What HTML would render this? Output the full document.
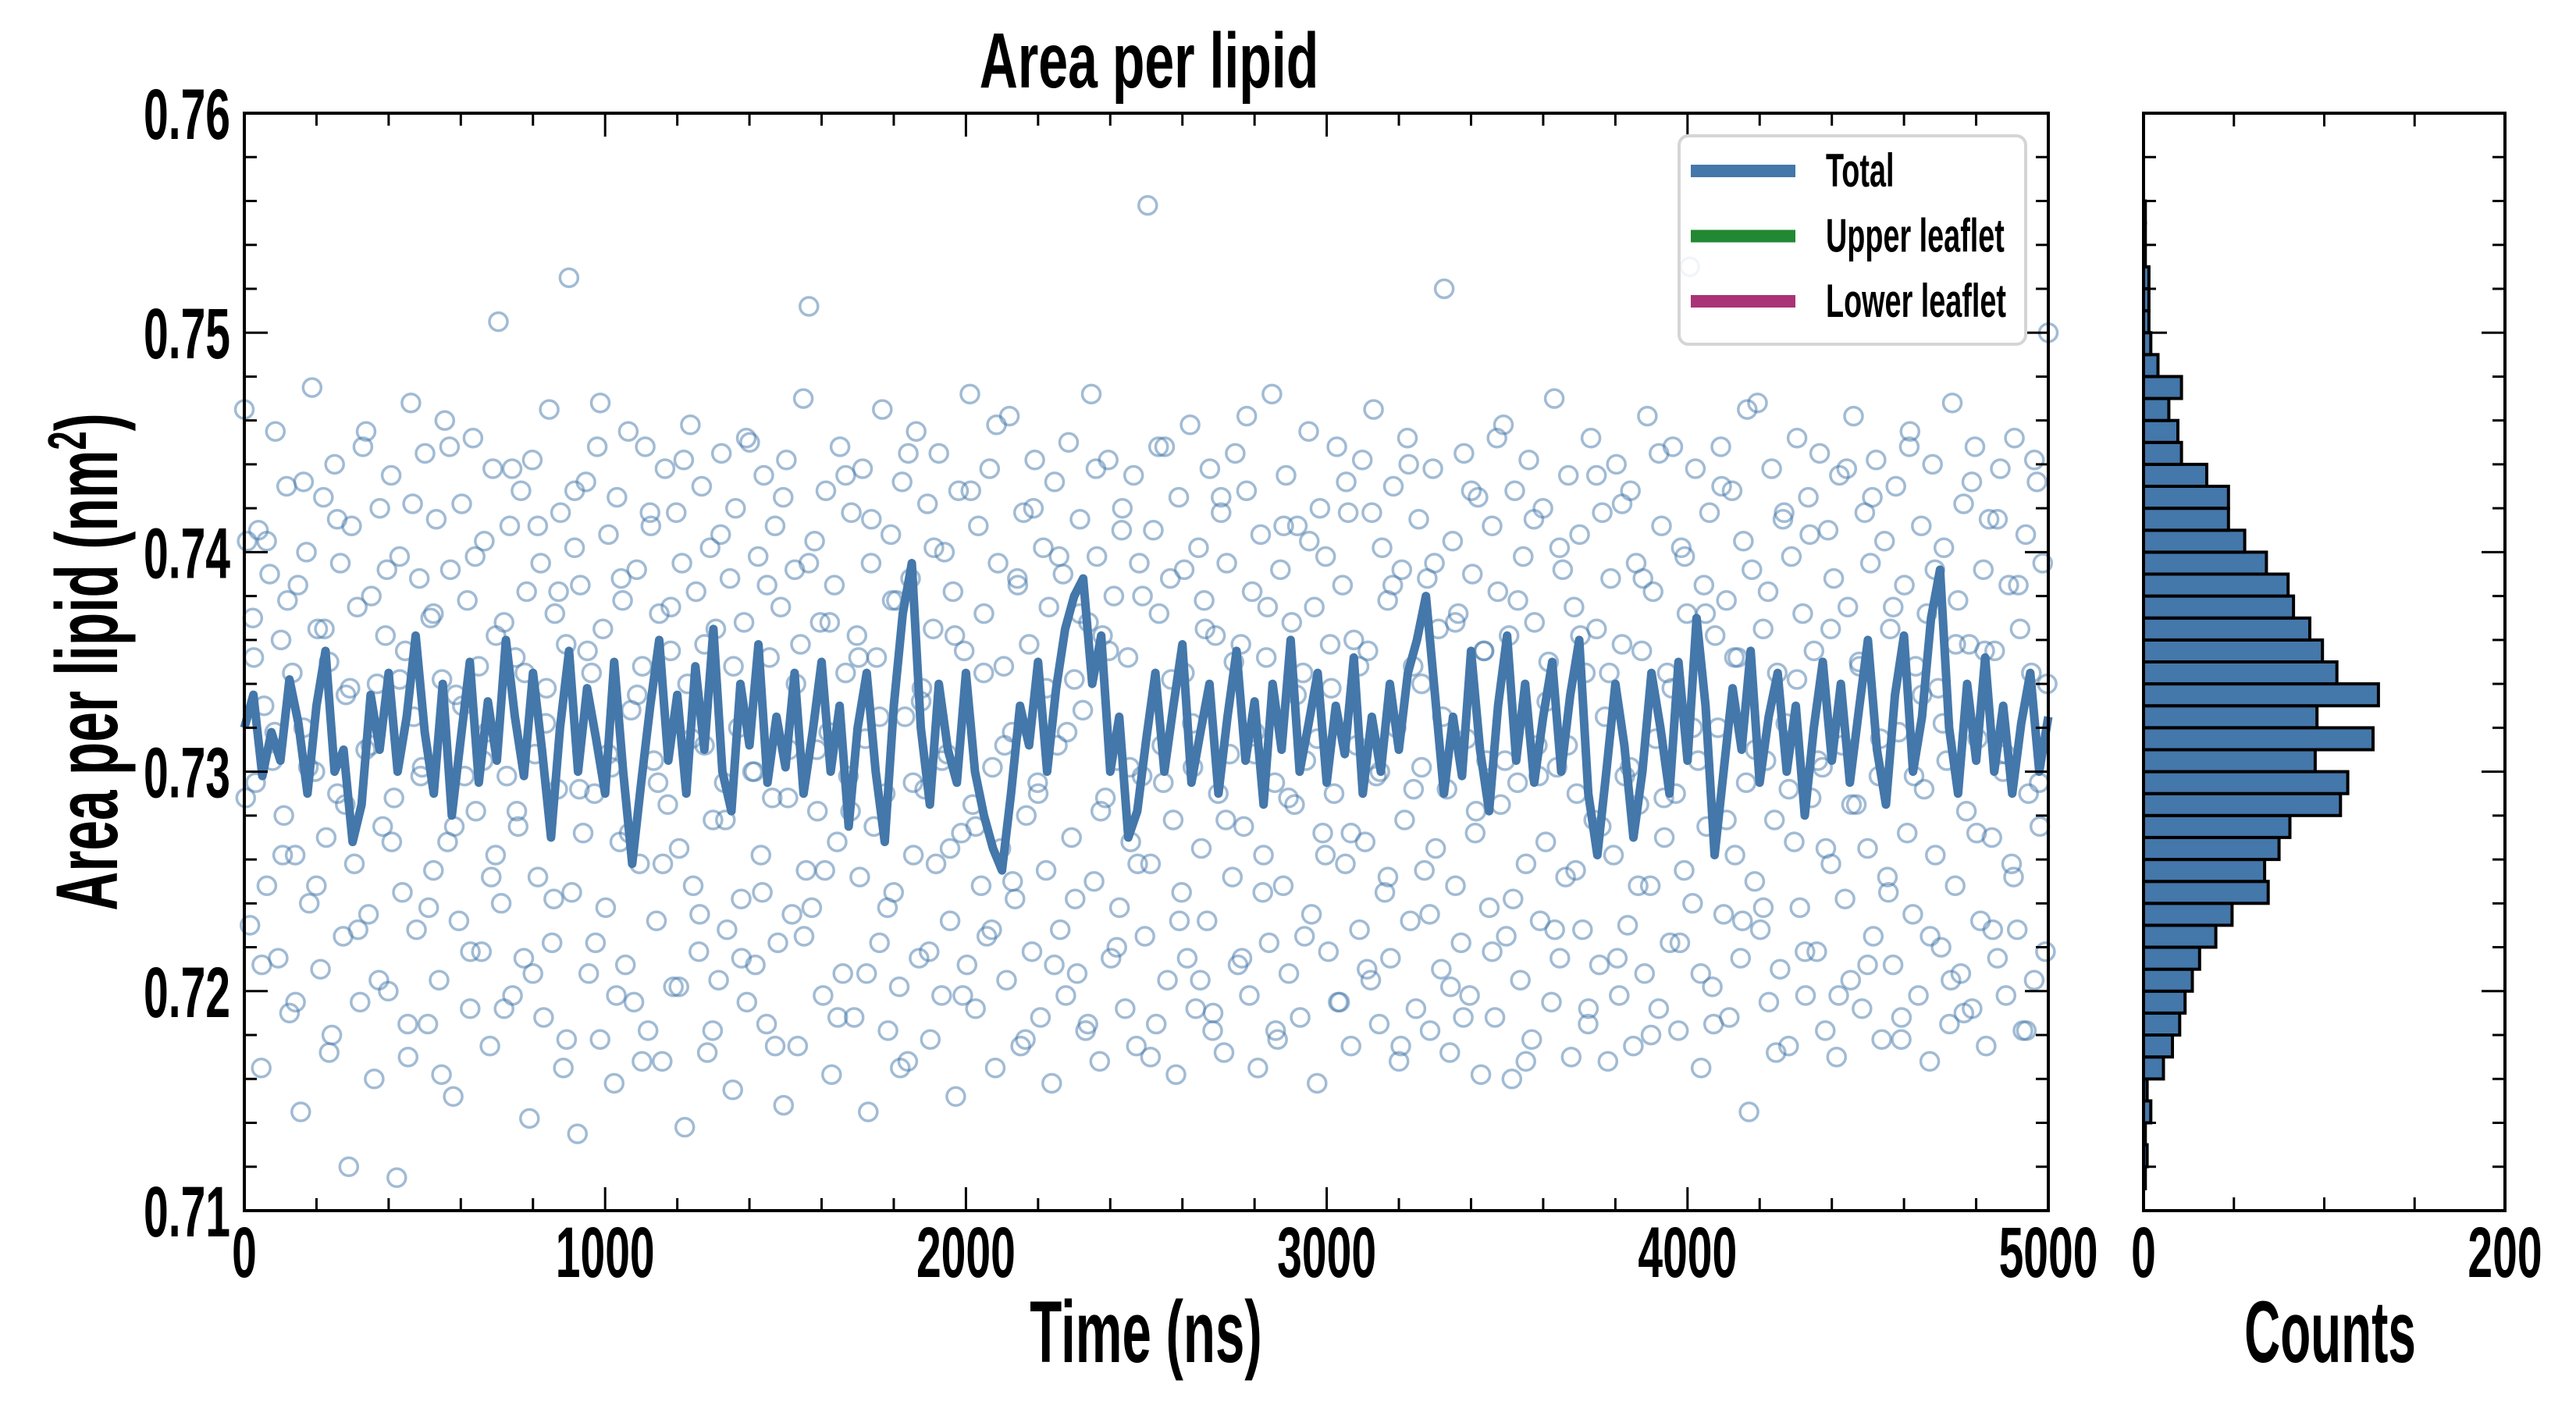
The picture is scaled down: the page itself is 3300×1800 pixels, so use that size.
<!DOCTYPE html>
<html><head><meta charset="utf-8">
<style>
html,body{margin:0;padding:0;background:#fff;}
svg{display:block;}
text{font-family:"Liberation Sans Narrow","Liberation Sans",sans-serif;font-weight:bold;fill:#000;}
</style></head>
<body>
<svg id="chart" width="3300" height="1800" viewBox="0 0 3300 1800" xmlns="http://www.w3.org/2000/svg">
<rect width="3300" height="1800" fill="#fff"/>
<g id="scatter"></g>
<g id="line"></g>
<g id="hist"></g>
<g id="axes"></g>
<g id="labels"></g>
<g id="legend"></g>
</svg>
<script>
// ---- data ----
const lineTimes = [];
const lineValues = [.7320,.7335,.7298,.7318,.7305,.7342,.7322,.7290,.7330,.7355,.7300,.7310,.7268,.7285,.7335,.7310,.7345,.7300,.7325,.7362,
.7318,.7290,.7340,.7280,.7315,.7350,.7295,.7332,.7305,.7360,.7325,.7298,.7345,.7310,.7270,.7320,.7355,.7300,.7338,.7315,
.7290,.7350,.7300,.7258,.7295,.7330,.7360,.7305,.7335,.7290,.7348,.7310,.7365,.7300,.7282,.7340,.7312,.7358,.7295,.7325,
.7302,.7345,.7290,.7318,.7350,.7300,.7330,.7275,.7320,.7345,.7300,.7268,.7330,.7372,.7395,.7320,.7285,.7340,.7310,.7295,
.7345,.7300,.7280,.7265,.7255,.7290,.7330,.7312,.7350,.7300,.7338,.7365,.7380,.7388,.7340,.7362,.7300,.7325,.7270,.7282,
.7315,.7345,.7300,.7330,.7358,.7295,.7318,.7340,.7290,.7325,.7355,.7305,.7332,.7285,.7340,.7310,.7360,.7300,.7322,.7345,
.7295,.7330,.7308,.7352,.7290,.7325,.7300,.7340,.7310,.7345,.7360,.7380,.7335,.7290,.7325,.7298,.7355,.7310,.7282,.7330,
.7362,.7305,.7340,.7295,.7325,.7350,.7300,.7335,.7360,.7290,.7262,.7300,.7340,.7312,.7270,.7300,.7345,.7320,.7290,.7350,
.7305,.7370,.7330,.7262,.7300,.7338,.7310,.7355,.7295,.7325,.7345,.7300,.7330,.7280,.7320,.7350,.7305,.7340,.7295,.7328,
.7360,.7310,.7285,.7335,.7362,.7300,.7325,.7370,.7392,.7320,.7290,.7340,.7305,.7352,.7300,.7330,.7290,.7322,.7345,.7300,.7325];
for (let i = 0; i < lineValues.length; i++) lineTimes.push(i * 25);

const scatterValues = [
.7465,.7405,.7230,.7370,.7295,.7410,.7165,.7330,.7248,.7390,.7305,.7455,.7215,.7360,.7280,.7430,.7190,.7345,.7262,.7385,
.7145,.7320,.7400,.7240,.7475,.7300,.7365,.7210,.7425,.7270,.7350,.7180,.7440,.7290,.7395,.7225,.7335,.7120,.7412,.7258,
.7375,.7195,.7448,.7310,.7235,.7380,.7160,.7340,.7420,.7275,.7362,.7200,.7435,.7288,.7115,.7398,.7245,.7355,.7170,.7468,
.7325,.7228,.7388,.7302,.7445,.7185,.7370,.7255,.7415,.7205,.7342,.7460,.7268,.7392,.7152,.7335,.7232,.7422,.7298,.7378,
.7192,.7452,.7282,.7348,.7218,.7405,.7318,.7175,.7438,.7262,.7505,.7240,.7368,.7298,.7412,.7198,.7352,.7275,.7428,.7215,
.7382,.7142,.7442,.7308,.7252,.7395,.7188,.7338,.7465,.7222,.7372,.7292,.7418,.7165,.7358,.7525,.7245,.7402,.7135,.7385,
.7272,.7432,.7208,.7345,.7290,.7448,.7178,.7365,.7238,.7408,.7302,.7158,.7425,.7268,.7378,.7212,.7455,.7328,.7195,.7392,
.7258,.7348,.7448,.7182,.7412,.7305,.7232,.7372,.7168,.7438,.7285,.7355,.7202,.7418,.7265,.7395,.7138,.7340,.7458,.7248,
.7382,.7218,.7430,.7312,.7172,.7402,.7278,.7365,.7205,.7445,.7295,.7228,.7388,.7155,.7420,.7320,.7242,.7368,.7195,.7450,
.7300,.7212,.7398,.7262,.7435,.7185,.7352,.7288,.7412,.7222,.7375,.7148,.7442,.7310,.7235,.7392,.7175,.7358,.7470,.7255,
.7512,.7238,.7405,.7282,.7368,.7198,.7428,.7318,.7162,.7385,.7268,.7448,.7208,.7345,.7298,.7418,.7188,.7362,.7252,.7438,
.7315,.7145,.7395,.7275,.7352,.7222,.7465,.7290,.7182,.7408,.7245,.7378,.7202,.7432,.7325,.7168,.7388,.7262,.7455,.7215,
.7338,.7292,.7422,.7178,.7365,.7258,.7445,.7198,.7400,.7308,.7232,.7382,.7152,.7428,.7272,.7355,.7212,.7472,.7285,.7192,
.7412,.7248,.7372,.7225,.7438,.7302,.7165,.7395,.7265,.7348,.7205,.7462,.7318,.7242,.7385,.7175,.7418,.7280,.7358,.7218,
.7442,.7295,.7188,.7402,.7255,.7375,.7158,.7432,.7312,.7228,.7390,.7198,.7450,.7270,.7342,.7208,.7415,.7328,.7182,.7368,
.7472,.7250,.7398,.7168,.7362,.7288,.7442,.7215,.7380,.7305,.7238,.7420,.7192,.7352,.7268,.7435,.7175,.7395,.7298,.7225,
.7558,.7258,.7410,.7185,.7372,.7312,.7448,.7205,.7388,.7278,.7162,.7425,.7245,.7345,.7215,.7458,.7302,.7192,.7402,.7265,
.7378,.7232,.7438,.7182,.7362,.7290,.7418,.7172,.7395,.7308,.7252,.7445,.7212,.7358,.7275,.7428,.7198,.7382,.7318,.7165,
.7408,.7262,.7352,.7222,.7472,.7295,.7178,.7392,.7248,.7435,.7208,.7368,.7285,.7412,.7188,.7345,.7305,.7455,.7235,.7375,
.7158,.7420,.7272,.7398,.7218,.7338,.7290,.7448,.7195,.7385,.7258,.7418,.7175,.7360,.7312,.7228,.7442,.7268,.7355,.7205,
.7465,.7298,.7185,.7402,.7245,.7378,.7215,.7430,.7320,.7168,.7392,.7278,.7452,.7232,.7348,.7192,.7415,.7302,.7255,.7388,
.7182,.7438,.7265,.7365,.7210,.7520,.7292,.7172,.7405,.7248,.7372,.7222,.7445,.7315,.7198,.7390,.7272,.7425,.7162,.7355,
.7305,.7238,.7412,.7188,.7382,.7285,.7458,.7225,.7362,.7160,.7428,.7295,.7205,.7398,.7258,.7442,.7178,.7368,.7312,.7232,
.7420,.7268,.7350,.7195,.7470,.7302,.7215,.7392,.7252,.7435,.7170,.7375,.7290,.7408,.7228,.7345,.7185,.7452,.7278,.7365,
.7212,.7418,.7325,.7168,.7388,.7262,.7440,.7198,.7358,.7298,.7230,.7428,.7175,.7395,.7285,.7355,.7208,.7462,.7248,.7382,
.7315,.7192,.7412,.7270,.7345,.7222,.7448,.7290,.7182,.7402,.7255,.7372,.7530,.7240,.7438,.7305,.7165,.7385,.7275,.7418,
.7202,.7362,.7320,.7448,.7235,.7378,.7188,.7428,.7262,.7352,.7215,.7405,.7295,.7145,.7392,.7250,.7468,.7228,.7365,.7305,
.7195,.7438,.7278,.7345,.7210,.7415,.7322,.7175,.7398,.7268,.7452,.7238,.7372,.7198,.7425,.7288,.7355,.7218,.7445,.7302,
.7182,.7410,.7258,.7388,.7170,.7435,.7312,.7242,.7375,.7205,.7462,.7285,.7350,.7192,.7418,.7265,.7395,.7225,.7442,.7298,
.7178,.7405,.7252,.7365,.7212,.7430,.7318,.7188,.7385,.7272,.7455,.7235,.7348,.7198,.7412,.7292,.7372,.7168,.7440,.7262,
.7338,.7220,.7402,.7305,.7185,.7468,.7248,.7378,.7208,.7422,.7282,.7358,.7192,.7448,.7315,.7232,.7392,.7175,.7415,.7270,
.7355,.7215,.7438,.7300,.7198,.7385,.7258,.7452,.7228,.7365,.7182,.7408,.7290,.7345,.7205,.7432,.7275,.7395,.7218,.7500];
const scatterValues2 = [
.7288,.7352,.7212,.7405,.7318,.7262,.7378,.7195,.7432,.7302,.7248,.7365,.7172,.7415,.7285,.7338,.7228,.7455,.7312,.7205,
.7392,.7268,.7342,.7185,.7422,.7298,.7238,.7372,.7162,.7448,.7275,.7330,.7218,.7398,.7305,.7252,.7362,.7192,.7438,.7282,
.7345,.7208,.7412,.7322,.7242,.7382,.7178,.7428,.7292,.7355,.7222,.7468,.7308,.7198,.7388,.7272,.7335,.7168,.7418,.7295,
.7258,.7375,.7202,.7442,.7315,.7235,.7358,.7182,.7408,.7278,.7348,.7215,.7452,.7300,.7245,.7385,.7175,.7425,.7288,.7340,
.7225,.7395,.7310,.7255,.7368,.7188,.7435,.7282,.7352,.7208,.7415,.7325,.7238,.7378,.7165,.7445,.7295,.7332,.7218,.7402,
.7305,.7265,.7362,.7198,.7428,.7275,.7345,.7228,.7458,.7312,.7250,.7388,.7178,.7420,.7290,.7338,.7212,.7398,.7318,.7242,
.7372,.7185,.7438,.7282,.7355,.7220,.7410,.7302,.7258,.7380,.7170,.7448,.7295,.7342,.7232,.7392,.7322,.7205,.7365,.7190,
.7425,.7278,.7350,.7215,.7462,.7308,.7245,.7375,.7182,.7412,.7288,.7335,.7225,.7405,.7315,.7262,.7358,.7195,.7432,.7272,
.7348,.7210,.7418,.7300,.7252,.7385,.7175,.7440,.7292,.7340,.7235,.7395,.7325,.7202,.7368,.7188,.7428,.7282,.7355,.7218,
.7452,.7305,.7242,.7378,.7168,.7415,.7298,.7332,.7228,.7402,.7312,.7255,.7362,.7192,.7435,.7275,.7345,.7215,.7422,.7302,
.7248,.7388,.7180,.7445,.7288,.7338,.7222,.7398,.7320,.7208,.7372,.7185,.7430,.7278,.7352,.7232,.7465,.7310,.7238,.7382,
.7172,.7418,.7292,.7342,.7218,.7408,.7305,.7265,.7365,.7198,.7438,.7285,.7348,.7212,.7425,.7315,.7245,.7375,.7178,.7448,
.7298,.7335,.7225,.7392,.7322,.7205,.7358,.7190,.7432,.7272,.7355,.7228,.7415,.7308,.7252,.7385,.7182,.7442,.7295,.7340];
const scatterTimes = [];
for (let i = 0; i < scatterValues.length; i++) scatterTimes.push(i * 5000 / (scatterValues.length - 1));
const scatterTimes2 = [];
for (let i = 0; i < scatterValues2.length; i++) scatterTimes2.push(4 + i * 4990 / (scatterValues2.length - 1) + (i % 3) * 3);

const binStarts = [.711,.712,.713,.714,.715,.716,.717,.718,.719,.720,.721,.722,.723,.724,.725,.726,.727,.728,.729,.730,
.731,.732,.733,.734,.735,.736,.737,.738,.739,.740,.741,.742,.743,.744,.745,.746,.747,.748,.749,.750,.751,.752,.753,.754,.755];
const binCounts = [1,2,1,4,2,11,16,20,23,27,31,40,49,69,67,75,81,109,113,95,
127,96,130,107,99,92,83,80,68,56,47,47,35,21,19,14,21,8,4,3,3,3,1,1,1];

const xTicks = [0,1000,2000,3000,4000,5000];
const yTicks = [0.71,0.72,0.73,0.74,0.75,0.76];
const histTicks = [0,200];

// ---- layout ----
const X0 = 313, X1 = 2624, Y0 = 1551, Y1 = 145;
const H0 = 2746, H1 = 3209;
const xScale = t => X0 + (t - 0) / 5000 * (X1 - X0);
const yScale = v => Y0 - (v - 0.71) / 0.05 * (Y0 - Y1);
const hScale = c => H0 + c / 200 * (H1 - H0);
const NS = "http://www.w3.org/2000/svg";
function mk(tag, attrs, parent) {
  const el = document.createElementNS(NS, tag);
  for (const k in attrs) el.setAttribute(k, attrs[k]);
  parent.appendChild(el);
  return el;
}

// scatter
const gS = document.getElementById('scatter');
function drawScatter(ts, vs) {
  for (let i = 0; i < vs.length; i++) {
    const c = mk('circle', {cx: xScale(ts[i]).toFixed(1), cy: yScale(vs[i]).toFixed(1), r: 11.5, fill: 'none', stroke: '#4477aa', 'stroke-opacity': 0.5, 'stroke-width': 3.5}, gS);
    
    
  }
}
drawScatter(scatterTimes, scatterValues);
drawScatter(scatterTimes2, scatterValues2);

// line
const gL = document.getElementById('line');
let d = '';
for (let i = 0; i < lineValues.length; i++) d += (i ? 'L' : 'M') + xScale(lineTimes[i]).toFixed(1) + ',' + yScale(lineValues[i]).toFixed(1);
const pl = mk('path', {d: d, fill: 'none', stroke: '#4477aa', 'stroke-width': 11, 'stroke-linejoin': 'round'}, gL);



// histogram
const gH = document.getElementById('hist');
for (let i = 0; i < binStarts.length; i++) {
  const yTop = yScale(binStarts[i] + 0.001), yBot = yScale(binStarts[i]);
  const r = mk('rect', {x: H0, y: yTop.toFixed(1), width: (hScale(binCounts[i]) - H0).toFixed(1), height: (yBot - yTop).toFixed(1), fill: '#4477aa', stroke: '#000', 'stroke-width': 4}, gH);
  
  
}

// axes
const gA = document.getElementById('axes');
function frame(x0, x1, name) {
  const r = mk('rect', {x: x0, y: Y1, width: x1 - x0, height: Y0 - Y1, fill: 'none', stroke: '#000', 'stroke-width': 4}, gA);
  
  
}
frame(X0, X1, 'main-plot-frame');
frame(H0, H1, 'hist-plot-frame');
let tk = '';
for (let t = 0; t <= 5000; t += 200) {
  const x = xScale(t), L = (t % 1000 === 0) ? 30 : 16;
  tk += `M${x},${Y0}v${-L}M${x},${Y1}v${L}`;
}
for (let k = 0; k <= 25; k++) {
  const v = 0.71 + k * 0.002, y = yScale(v), L = (k % 5 === 0) ? 30 : 16;
  tk += `M${X0},${y}h${L}M${X1},${y}h${-L}M${H0},${y}h${L}M${H1},${y}h${-L}`;
}
for (let c = 50; c < 200; c += 50) {
  const x = hScale(c);
  tk += `M${x},${Y0}v-17M${x},${Y1}v17`;
}
const tp = mk('path', {d: tk, stroke: '#000', 'stroke-width': 3, fill: 'none'}, gA);



// labels
const gT = document.getElementById('labels');
function txt(s, x, y, size, anchor, name, rot, sx) {
  const g = mk('g', {transform: `translate(${x},${y})` + (rot ? ` rotate(${rot})` : '') + ` scale(${sx || 0.62},1)`}, gT);
  const t = mk('text', {x: 0, y: 0, 'font-size': size, 'text-anchor': anchor}, g);
  t.textContent = s;
  
  
  return t;
}
for (const v of yTicks) txt(v.toFixed(2), X0 - 18, yScale(v) + 33, 92, 'end', 'y-tick-label');
for (const t of xTicks) txt(String(t), xScale(t), 1636, 92, 'middle', 'x-tick-label');
for (const c of histTicks) txt(String(c), hScale(c), 1636, 92, 'middle', 'hist-x-tick-label');
txt('Area per lipid', 1472, 112, 100, 'middle', 'chart-title', 0, 0.68);
txt('Time (ns)', 1468, 1745, 112, 'middle', 'x-axis-title', 0, 0.6);
txt('Counts', 2985, 1745, 112, 'middle', 'hist-x-axis-title', 0, 0.57);
const yl = txt('Area per lipid (nm', 150, 848, 112, 'middle', 'y-axis-title', -90, 0.62);
const sup = document.createElementNS(NS, 'tspan');
sup.setAttribute('font-size', 70);
sup.setAttribute('dy', -40);
sup.textContent = '2';
yl.appendChild(sup);
const cl = document.createElementNS(NS, 'tspan');
cl.setAttribute('dy', 40);
cl.textContent = ')';
yl.appendChild(cl);

// legend
const gG = document.getElementById('legend');
const lb = mk('rect', {x: 2151, y: 174, width: 444, height: 267, rx: 12, fill: '#fff', 'fill-opacity': 0.85, stroke: '#d5d5d5', 'stroke-width': 4}, gG);


const legNames = ['Total', 'Upper leaflet', 'Lower leaflet'];
const legColors = ['#4477aa', '#228833', '#aa3377'];
for (let i = 0; i < 3; i++) {
  const y = 219 + i * 83.5;
  const s = mk('rect', {x: 2166, y: y - 8, width: 134, height: 16, fill: legColors[i]}, gG);
  
  
  const g = mk('g', {transform: `translate(2339,${y + 20}) scale(0.63,1)`}, gG);
  const t = mk('text', {x: 0, y: 0, 'font-size': 60}, g);
  t.textContent = legNames[i];
  
  
}
</script>
</body></html>
